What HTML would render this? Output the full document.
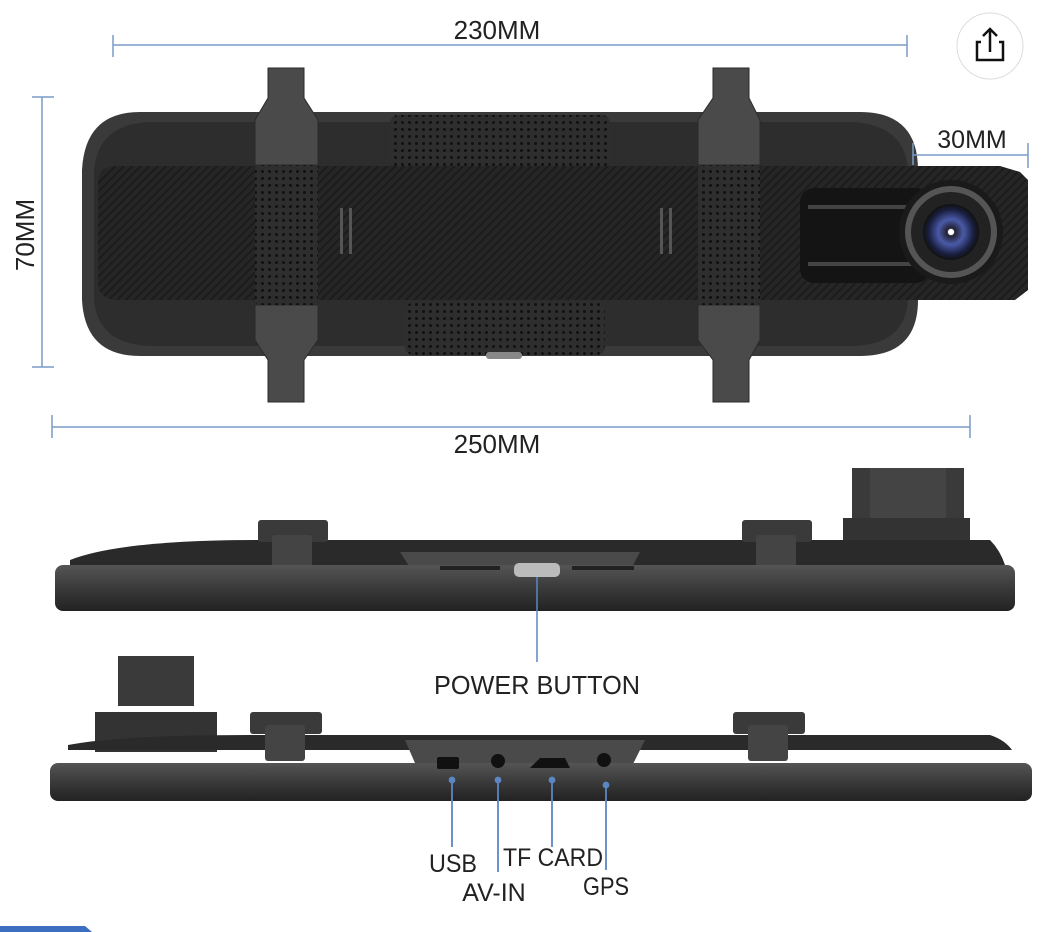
<!DOCTYPE html>
<html><head><meta charset="utf-8"><style>
html,body{margin:0;padding:0;background:#fff;}
svg{display:block;}
text{font-family:"Liberation Sans",sans-serif;fill:#222;}
</style></head><body>
<svg width="1046" height="932" viewBox="0 0 1046 932" xmlns="http://www.w3.org/2000/svg">
<defs>
<pattern id="tex" width="6" height="6" patternUnits="userSpaceOnUse" patternTransform="rotate(45)">
<rect width="6" height="6" fill="#262626"/><rect width="2" height="6" fill="#1c1c1c"/>
</pattern>
<pattern id="dots" width="7" height="7" patternUnits="userSpaceOnUse">
<rect width="7" height="7" fill="#2e2e2e"/><circle cx="3.5" cy="3.5" r="1.5" fill="#111"/>
</pattern>
<radialGradient id="lens" cx="0.5" cy="0.5" r="0.5">
<stop offset="0" stop-color="#fff"/><stop offset="0.15" stop-color="#223"/><stop offset="0.45" stop-color="#4a5aa8"/><stop offset="0.8" stop-color="#1a1f40"/><stop offset="1" stop-color="#111"/>
</radialGradient>
<linearGradient id="side" x1="0" y1="0" x2="0" y2="1">
<stop offset="0" stop-color="#555"/><stop offset="0.5" stop-color="#3a3a3a"/><stop offset="1" stop-color="#222"/>
</linearGradient>
</defs>

<circle cx="990" cy="46" r="33" fill="#fff" stroke="#ddd"/>
<path d="M981 42 h-4 v18 h26 v-18 h-4" fill="none" stroke="#111" stroke-width="2.5"/>
<path d="M990 52 V30 M983 36 L990 29 L997 36" fill="none" stroke="#111" stroke-width="2.5"/>

<path d="M140 112 H860 Q918 112 918 170 V300 Q918 356 860 356 H140 Q85 356 82 300 V170 Q85 112 140 112Z" fill="#3a3a3a"/>
<path d="M150 122 H850 Q905 124 908 170 V300 Q905 346 850 346 H150 Q98 344 94 300 V170 Q98 124 150 122Z" fill="#2d2d2d"/>
<rect x="390" y="115" width="220" height="52" rx="8" fill="url(#dots)"/>
<rect x="405" y="303" width="200" height="52" rx="8" fill="url(#dots)"/>
<path d="M118 166 H1000 L1020 172 L1028 180 V290 L1015 300 H118 Q100 300 98 285 V180 Q100 166 118 166Z" fill="url(#tex)"/>
<rect x="800" y="188" width="130" height="95" rx="14" fill="#141414"/>
<rect x="808" y="205" width="110" height="4" fill="#444"/>
<rect x="808" y="262" width="110" height="4" fill="#444"/>
<circle cx="951" cy="232" r="52" fill="#1a1a1a"/>
<circle cx="951" cy="232" r="46" fill="#555"/>
<circle cx="951" cy="232" r="40" fill="#222"/>
<circle cx="951" cy="232" r="28" fill="url(#lens)"/>
<circle cx="951" cy="232" r="3" fill="#fff"/>
<rect x="486" y="352" width="36" height="7" rx="3" fill="#888"/>
<g fill="#555"><rect x="340" y="208" width="3" height="46"/><rect x="349" y="208" width="3" height="46"/><rect x="660" y="208" width="3" height="46"/><rect x="669" y="208" width="3" height="46"/></g>
<g fill="#4a4a4a" stroke="#2a2a2a">
<path d="M268 68 H304 V98 L318 120 V165 H255 V120 L268 98Z"/>
<path d="M255 305 H318 V340 L304 360 V402 H268 V360 L255 340Z"/>
<path d="M713 68 H749 V98 L760 120 V165 H698 V120 L713 98Z"/>
<path d="M698 305 H760 V340 L749 360 V402 H713 V360 L698 340Z"/>
</g>
<rect x="255" y="165" width="63" height="140" rx="4" fill="url(#dots)"/>
<rect x="698" y="165" width="62" height="140" rx="4" fill="url(#dots)"/>

<g stroke="#7a9cc8" stroke-width="1.5" fill="none">
<path d="M113 45 H907 M113 35 V57 M907 35 V57"/>
<path d="M42 97 V367 M32 97 H54 M32 367 H54"/>
<path d="M52 427 H970 M52 415 V438 M970 415 V438"/>
<path d="M913 155 H1028 M913 143 V165 M1028 143 V168"/>
</g>
<text x="497" y="39" font-size="26" text-anchor="middle">230MM</text>
<text x="497" y="453" font-size="26" text-anchor="middle">250MM</text>
<text x="972" y="148" font-size="25" text-anchor="middle">30MM</text>
<text transform="translate(34,235) rotate(-90)" font-size="26" text-anchor="middle">70MM</text>

<rect x="852" y="468" width="112" height="52" fill="#3a3a3a"/>
<rect x="870" y="468" width="76" height="55" fill="#444"/>
<rect x="843" y="518" width="127" height="40" fill="#333"/>
<path d="M70 560 Q120 540 260 540 H990 Q1000 550 1005 565 H70Z" fill="#2a2a2a"/>
<rect x="258" y="520" width="70" height="22" rx="3" fill="#3a3a3a"/>
<rect x="272" y="535" width="40" height="35" rx="3" fill="#444"/>
<rect x="742" y="520" width="70" height="22" rx="3" fill="#3a3a3a"/>
<rect x="756" y="535" width="40" height="35" rx="3" fill="#444"/>
<path d="M400 552 H640 L625 580 H418Z" fill="#4a4a4a"/>
<rect x="55" y="565" width="960" height="46" rx="8" fill="url(#side)"/>
<g fill="#222"><rect x="440" y="566" width="60" height="4"/><rect x="572" y="566" width="62" height="4"/></g>
<rect x="514" y="563" width="46" height="14" rx="5" fill="#bbb"/>
<path d="M537 577 V662" stroke="#5b86c4" stroke-width="1.5"/>
<text x="537" y="694" font-size="26" text-anchor="middle" textLength="206" lengthAdjust="spacingAndGlyphs">POWER BUTTON</text>

<rect x="118" y="656" width="76" height="50" fill="#3a3a3a"/>
<rect x="95" y="712" width="122" height="40" fill="#333"/>
<path d="M68 745 Q120 735 250 735 H990 Q1005 740 1012 750 H68Z" fill="#2a2a2a"/>
<rect x="250" y="712" width="72" height="22" rx="3" fill="#3a3a3a"/>
<rect x="265" y="725" width="40" height="36" rx="3" fill="#444"/>
<rect x="733" y="712" width="72" height="22" rx="3" fill="#3a3a3a"/>
<rect x="748" y="725" width="40" height="36" rx="3" fill="#444"/>
<path d="M405 740 H645 L630 770 H418Z" fill="#4a4a4a"/>
<rect x="50" y="763" width="982" height="38" rx="8" fill="url(#side)"/>
<rect x="437" y="757" width="22" height="12" rx="2" fill="#111"/>
<circle cx="498" cy="761" r="7" fill="#111"/>
<path d="M530 768 L540 758 H565 L570 768Z" fill="#111"/>
<circle cx="604" cy="760" r="7" fill="#111"/>
<g stroke="#5b86c4" stroke-width="1.8" fill="#5b86c4">
<path d="M452 780 V847"/><circle cx="452" cy="780" r="2.5"/>
<path d="M498 780 V872"/><circle cx="498" cy="780" r="2.5"/>
<path d="M552 780 V847"/><circle cx="552" cy="780" r="2.5"/>
<path d="M606 785 V870"/><circle cx="606" cy="785" r="2.5"/>
</g>
<text x="453" y="872" font-size="25" text-anchor="middle" textLength="48" lengthAdjust="spacingAndGlyphs">USB</text>
<text x="553" y="866" font-size="25" text-anchor="middle" textLength="100" lengthAdjust="spacingAndGlyphs">TF CARD</text>
<text x="494" y="901" font-size="25" text-anchor="middle">AV-IN</text>
<text x="606" y="895" font-size="25" text-anchor="middle" textLength="46" lengthAdjust="spacingAndGlyphs">GPS</text>

<path d="M0 926 H85 L92 932 H0Z" fill="#3d6fc0"/>
</svg>
</body></html>
